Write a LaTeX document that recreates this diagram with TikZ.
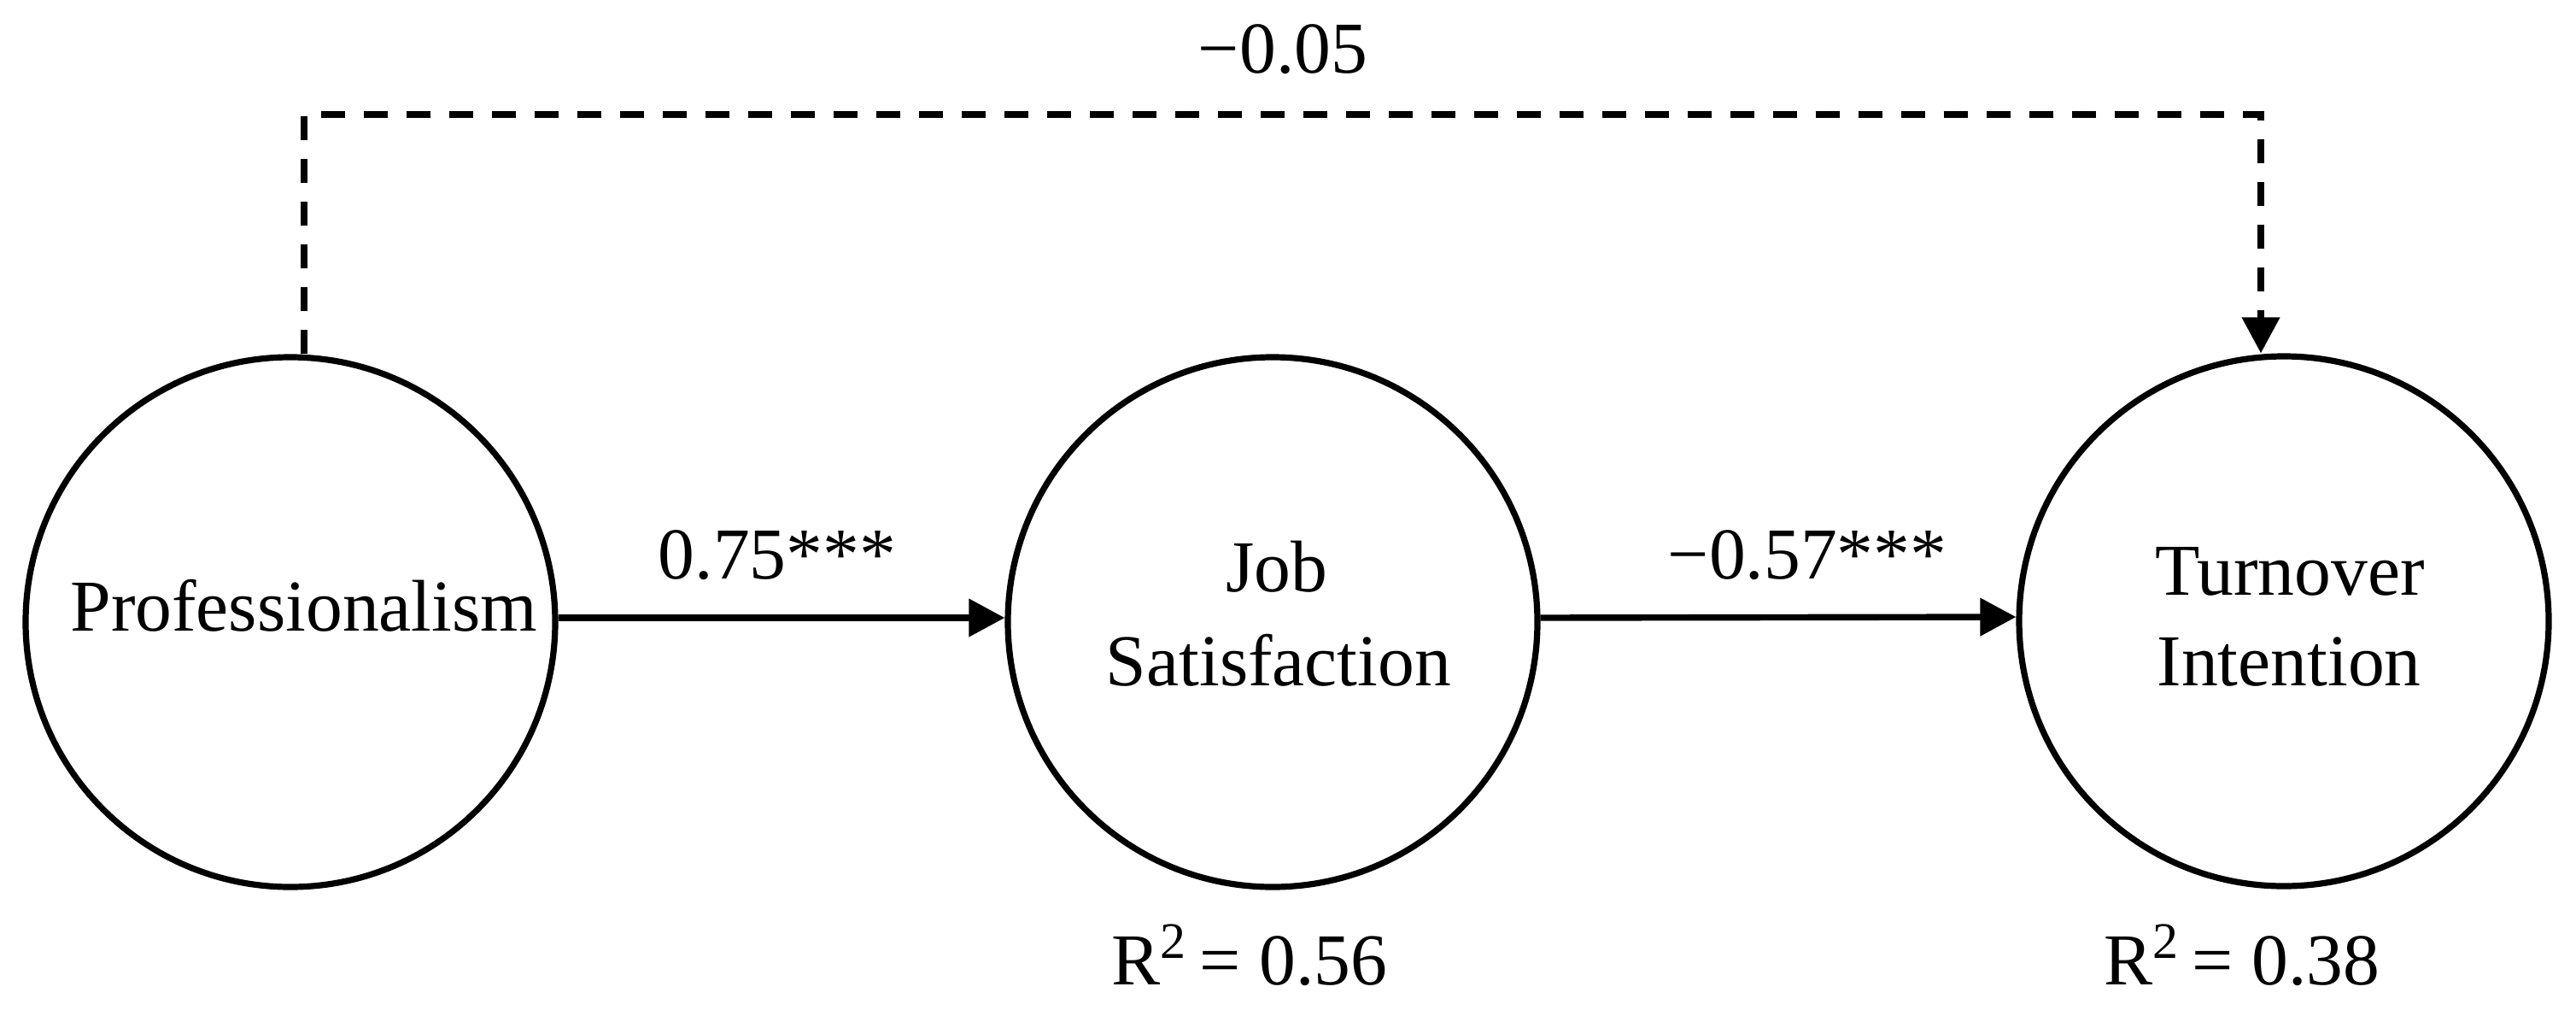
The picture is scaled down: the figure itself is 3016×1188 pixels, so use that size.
\documentclass[tikz,border=0pt]{standalone}
\usepackage{fontspec}
\setmainfont{Liberation Serif}
\usetikzlibrary{arrows.meta}
\begin{document}
\begin{tikzpicture}[x=0.25pt,y=-0.25pt,
  var/.style={circle,draw,line width=1.8pt,minimum size=155pt,inner sep=0pt},
  txt/.style={anchor=base,inner sep=0pt,font=\fontsize{21.4}{27.5}\selectfont},
  pathline/.style={line width=1.85pt,-{Triangle[length=10.5pt,width=10.75pt]}},
  dpathline/.style={pathline,dash pattern=on 7pt off 5.5pt}]
\useasboundingbox[fill=white] (0,0) rectangle (3016,1188);
% variables
\node[var] (P) at (340,728) {};
\node[var] (J) at (1490,728) {};
\node[var] (T) at (2674,727) {};
% texts
\node[txt] (Ptx) at (356,738) {Professionalism};
\node[txt] (J1) at (1495,692) {Job};
\node[txt] (J2) at (1497,802) {Satisfaction};
\node[txt] (T1) at (2681,696) {Turnover};
\node[txt] (T2) at (2680,802) {Intention};
% paths
\draw[pathline] ([yshift=1.25pt]P.east) -- ([yshift=1.25pt]J.west);
\draw[pathline] ([yshift=1.25pt]J.east) -- ([yshift=1.25pt]T.west);
\coordinate (ca) at (356,134);
\coordinate (cb) at (2647,134);
\draw[dpathline] (P.north -| ca) -- (ca) -- (cb) -- (T.north -| cb);
% labels
\node[txt] (l1) at (910,677) {0.75***};
\node[txt] (l2) at (2116,677) {−0.57***};
\node[txt] (l3) at (1502,85) {−0.05};
\node[txt] (r1) at (1463,1152) {R\textsuperscript{2}\,= 0.56};
\node[txt] (r2) at (2625,1152) {R\textsuperscript{2}\,= 0.38};
\end{tikzpicture}
\end{document}
